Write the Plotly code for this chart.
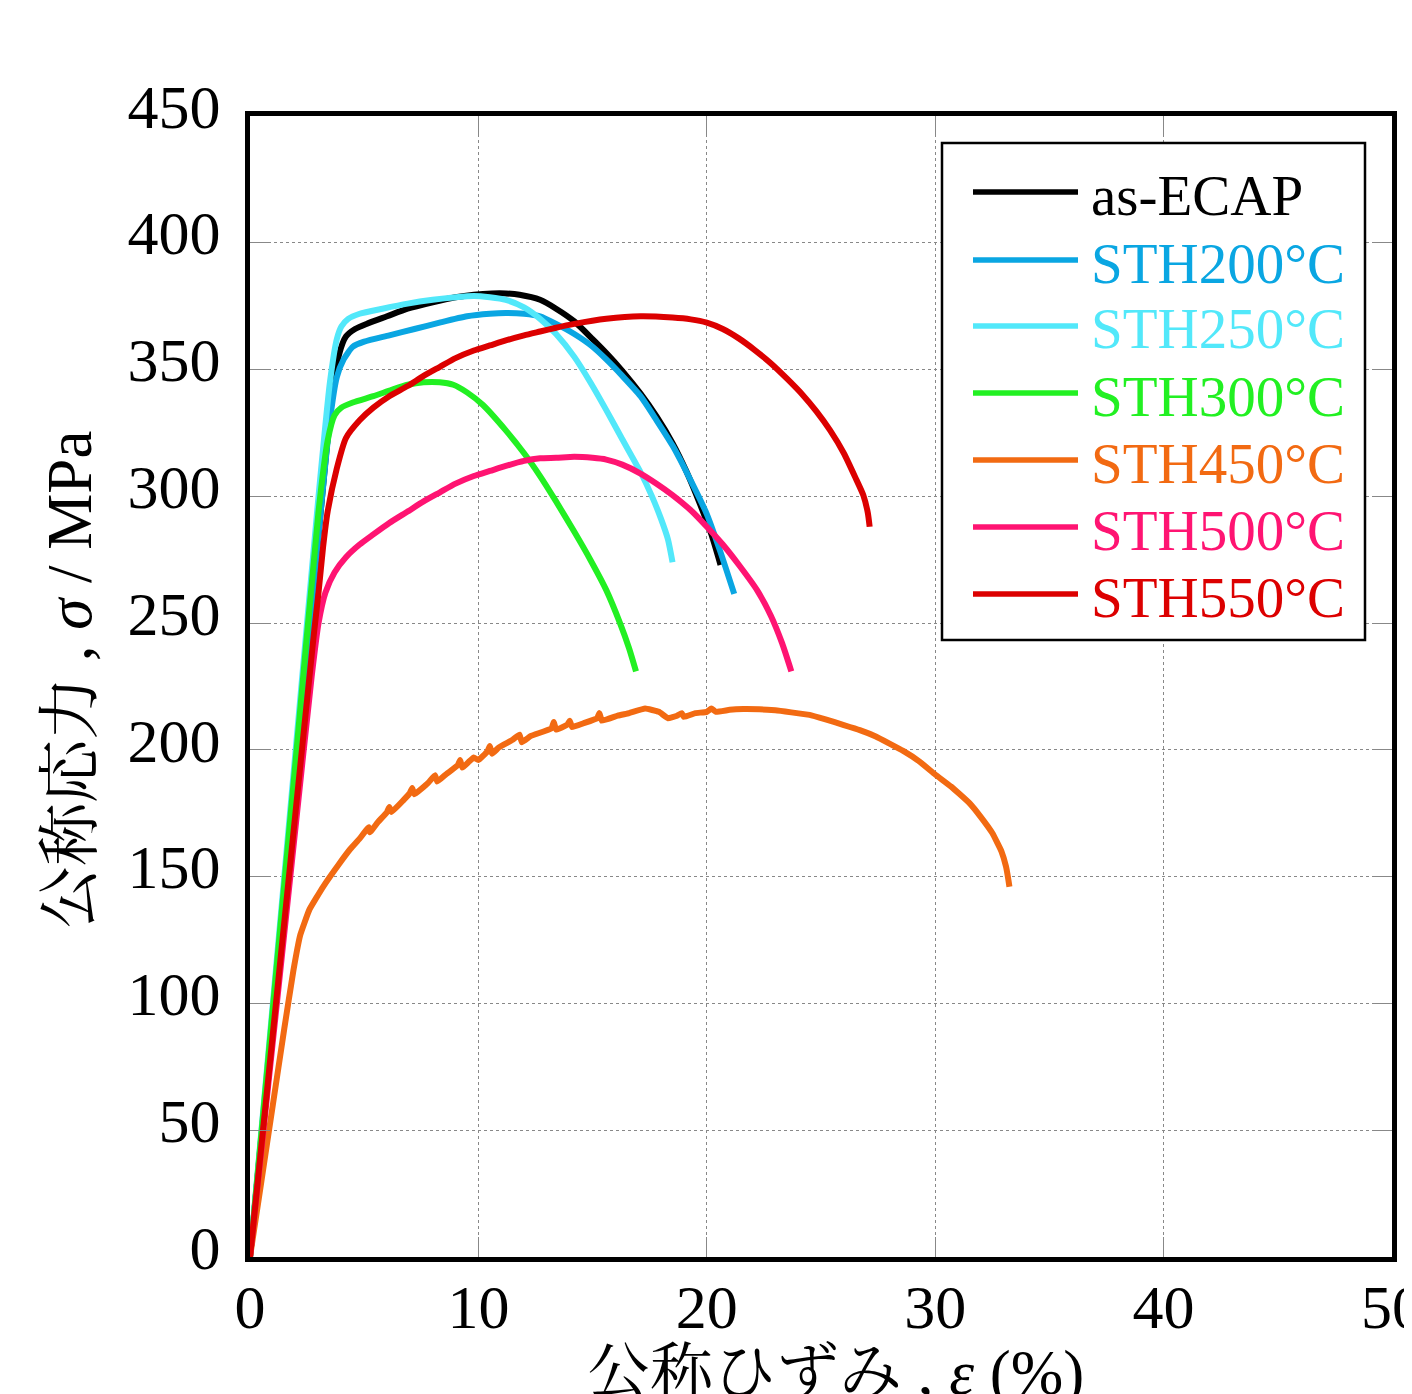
import plotly.graph_objects as go

# ---------------- data ----------------
names = ["as-ECAP", "STH200°C", "STH250°C", "STH300°C", "STH450°C", "STH500°C", "STH550°C"]
colors = ["#000000", "#0AA6E2", "#52E8FA", "#22F022", "#F26A12", "#FF1472", "#DC0000"]

ecap_x = [0, 1.0, 2.0, 3.0, 3.6, 3.9, 4.2, 4.6, 5.1, 6.0, 6.9, 8.0, 9.0, 9.8, 10.6, 11.2, 11.8, 12.7,
          13.4, 14.2, 15.0, 15.6, 16.3, 17.1, 17.8, 18.5, 19.1, 19.7, 20.2, 20.6]
ecap_y = [0, 95, 190, 285, 340, 356, 363, 366, 368, 371, 374, 376.5, 378.5, 379.5, 380, 380, 379.5, 377.5,
          374, 369, 362, 356.5, 349.5, 340.5, 331.5, 321, 310, 297, 285, 273]

s200_x = [0, 1.0, 2.0, 3.0, 3.5, 3.8, 4.1, 4.5, 5.0, 6.1, 7.2, 8.3, 9.5, 10.5, 11.2, 12.0, 12.7, 13.4,
          14.2, 15.0, 15.6, 16.3, 17.1, 17.8, 18.5, 19.2, 20.0, 20.6, 21.2]
s200_y = [0, 95, 190, 285, 330, 347, 354, 359, 361, 363.5, 366, 368.5, 371, 372, 372.3, 372, 371, 368,
          364, 359, 354, 347.5, 339.5, 330, 320, 308, 293, 278, 261.5]

s250_x = [0, 1.0, 2.0, 3.0, 3.5, 3.8, 4.0, 4.3, 4.8, 5.8, 6.9, 8.0, 9.0, 9.8, 10.5, 11.2, 12.0, 12.7,
          13.4, 14.2, 14.9, 15.6, 16.3, 17.1, 17.6, 18.0, 18.3, 18.5]
s250_y = [0, 100, 200, 300, 345, 362, 367, 370, 372, 374, 376, 377.5, 378.5, 379, 378.5, 377.5, 374.5, 370,
          364, 355, 345, 334, 322.5, 309.5, 300, 291, 283, 274]

s300_x = [0, 1.0, 2.0, 3.0, 3.4, 3.7, 4.0, 4.5, 5.4, 6.2, 6.9, 7.6, 8.3, 8.9, 9.5, 10.2, 11.2, 12.0,
          12.7, 13.4, 14.2, 14.9, 15.6, 16.2, 16.6, 16.9]
s300_y = [0, 98, 196, 294, 322, 332, 335, 337, 339.5, 342, 344, 345, 345, 344, 341, 336, 326, 317,
          308, 298, 286, 275, 263, 250, 240, 231]

s450_x = [0, 0.5, 1.0, 1.5, 1.9, 2.2, 2.6, 3.2, 3.9, 4.4, 4.8, 5.2, 5.25, 5.6, 6.0, 6.1, 6.2, 6.7, 7.0,
          7.1, 7.2, 7.8, 8.1, 8.2, 8.6, 9.1, 9.2, 9.3, 9.6, 9.8, 10.0, 10.4, 10.5, 10.6, 10.9, 11.5,
          11.8, 11.9, 12.3, 13.2, 13.3, 13.4, 13.9, 14.0, 14.1, 14.6, 15.2, 15.3, 15.4, 16.1, 16.6,
          17.3, 17.9, 18.3, 18.7, 18.9, 19.0, 19.5, 20.0, 20.2, 20.4, 21.0, 21.6, 22.3, 23.0, 23.7,
          24.5, 25.2, 26.0, 26.7, 27.4, 28.0, 28.6, 29.3, 30.0, 30.7, 31.5, 32.0, 32.5, 32.9, 33.1,
          33.2, 33.25]
s450_y = [0, 30, 60, 90, 113, 127, 137, 146, 155, 161, 165, 169.5, 167.5, 171.5, 175.5, 177.5, 175.5,
          180, 183, 185, 182.5, 187, 190, 187.5, 190.5, 194, 196, 193, 195.5, 197, 196, 199.5, 201.5,
          198.5, 201, 204, 206, 203, 205.5, 208.5, 211, 208, 210, 211.5, 209, 210.5, 212.5, 214.5,
          211.5, 213.5, 214.5, 216.3, 215, 212.5, 213.5, 214.5, 213, 214.5, 215, 216.3, 215, 215.8,
          216.1, 216, 215.6, 214.8, 213.8, 212, 209.8, 207.8, 205.3, 202.5, 199.6, 195.5, 190.3,
          185.5, 179, 173.5, 167.2, 160, 154, 149, 146]

s500_x = [0, 1.0, 2.0, 2.7, 3.0, 3.3, 3.7, 4.2, 4.8, 5.4, 6.1, 6.9, 7.6, 8.3, 9.0, 9.8, 10.5, 11.2,
          12.0, 12.7, 13.4, 14.2, 15.0, 15.6, 16.3, 17.1, 17.8, 18.5, 19.3, 20.0, 20.7, 21.4, 22.2,
          22.8, 23.3, 23.7]
s500_y = [0, 85, 170, 229, 250, 262, 270, 276, 281, 285, 289.5, 294, 298, 301.5, 305, 308, 310, 312,
          314, 315, 315.2, 315.6, 315.2, 314.5, 312.5, 309, 305, 300.5, 294.5, 288, 281, 273, 263,
          253, 242, 231]

s550_x = [0, 1.0, 2.0, 2.8, 3.0, 3.2, 3.4, 3.8, 4.2, 4.8, 5.4, 6.1, 6.9, 7.6, 8.3, 9.0, 9.8, 10.5,
          11.2, 12.0, 12.7, 13.4, 14.2, 15.6, 17.1, 18.5, 19.3, 20.0, 20.7, 21.4, 22.1, 22.8, 23.5,
          24.2, 24.8, 25.4, 26.0, 26.5, 26.85, 27.05, 27.13]
s550_y = [0, 88, 176, 246, 262, 280, 294, 311, 323, 330, 335, 339.5, 343.5, 347.5, 351, 354.5, 357.5,
          359.5, 361.5, 363.5, 365, 366.5, 368, 370, 371, 370.5, 369.8, 368.5, 366, 362.3, 357.7,
          352.5, 346.5, 340, 333.5, 326, 317, 307.5, 300.5, 293.5, 288]

series_x = [ecap_x, s200_x, s250_x, s300_x, s450_x, s500_x, s550_x]
series_y = [ecap_y, s200_y, s250_y, s300_y, s450_y, s500_y, s550_y]

x_ticks = [0, 10, 20, 30, 40, 50]
y_ticks = [0, 50, 100, 150, 200, 250, 300, 350, 400, 450]

# ---------------- figure ----------------
SERIF = "Liberation Serif, Times New Roman, Noto Serif CJK JP, Noto Sans CJK JP, serif"

fig = go.Figure()
for nm, col, xs, ys in zip(names, colors, series_x, series_y):
    smooth = 0.3 if nm == "STH450°C" else 0.6
    fig.add_trace(go.Scatter(x=xs, y=ys, mode="lines", name=nm,
                             line=dict(color=col, width=6, shape="spline", smoothing=smooth),
                             showlegend=False))

axis_common = dict(
    showline=True, linewidth=5, linecolor="black", mirror="allticks",
    ticks="inside", ticklen=20, tickwidth=1, tickcolor="#888888",
    showgrid=True, gridcolor="#888888", gridwidth=1, griddash="dot",
    zeroline=False, tickfont=dict(family=SERIF, size=62, color="black"),
    ticklabeloverflow="allow",
)

fig.update_xaxes(range=[0, 50], tickvals=x_ticks, ticklabelstandoff=-8, **axis_common)
fig.update_yaxes(range=[0, 450], tickvals=y_ticks, ticklabelstandoff=12, ticklabelshift=-10,
                 **axis_common)

# ---------------- manual legend (screen-pixel helpers -> paper coords) ----------------
pl, pr, pt, pb = 250, 1392, 116, 1257   # plot area as seen on screen


def px_x(p):
    return (p - pl) / (pr - pl)


def px_y(p):
    return (pb - p) / (pb - pt)


shapes = [dict(type="rect", xref="paper", yref="paper",
               x0=px_x(942), x1=px_x(1365), y0=px_y(640), y1=px_y(143),
               line=dict(color="black", width=2.5), fillcolor="white", layer="above")]
annotations = []
row_y = [192, 260, 326, 393, 460, 527, 594]
for nm, col, ry in zip(names, colors, row_y):
    shapes.append(dict(type="line", xref="paper", yref="paper",
                       x0=px_x(973), x1=px_x(1078), y0=px_y(ry), y1=px_y(ry),
                       line=dict(color=col, width=5.5), layer="above"))
    annotations.append(dict(xref="paper", yref="paper", x=px_x(1089), y=px_y(ry + 3),
                            xanchor="left", yanchor="middle", showarrow=False,
                            text=nm, font=dict(family=SERIF, size=57, color=col)))

# axis titles
annotations.append(dict(xref="paper", yref="paper", x=px_x(70), y=px_y(680),
                        xanchor="center", yanchor="middle", textangle=-90, showarrow=False,
                        text="公称応力 , <i>σ</i> / MPa",
                        font=dict(family=SERIF, size=63, color="black")))
annotations.append(dict(xref="paper", yref="paper", x=px_x(835), y=px_y(1373),
                        xanchor="center", yanchor="middle", showarrow=False,
                        text="公称ひずみ , <i>ε</i> (%)",
                        font=dict(family=SERIF, size=63, color="black")))

# page body has an 8 px offset, so figure margins are set 8 px smaller on left/top
fig.update_layout(
    width=1412, height=1394,
    margin=dict(l=242, r=28, t=108, b=145, autoexpand=False),
    paper_bgcolor="white", plot_bgcolor="white",
    shapes=shapes, annotations=annotations,
    showlegend=False,
)

fig.write_html("out.html")
